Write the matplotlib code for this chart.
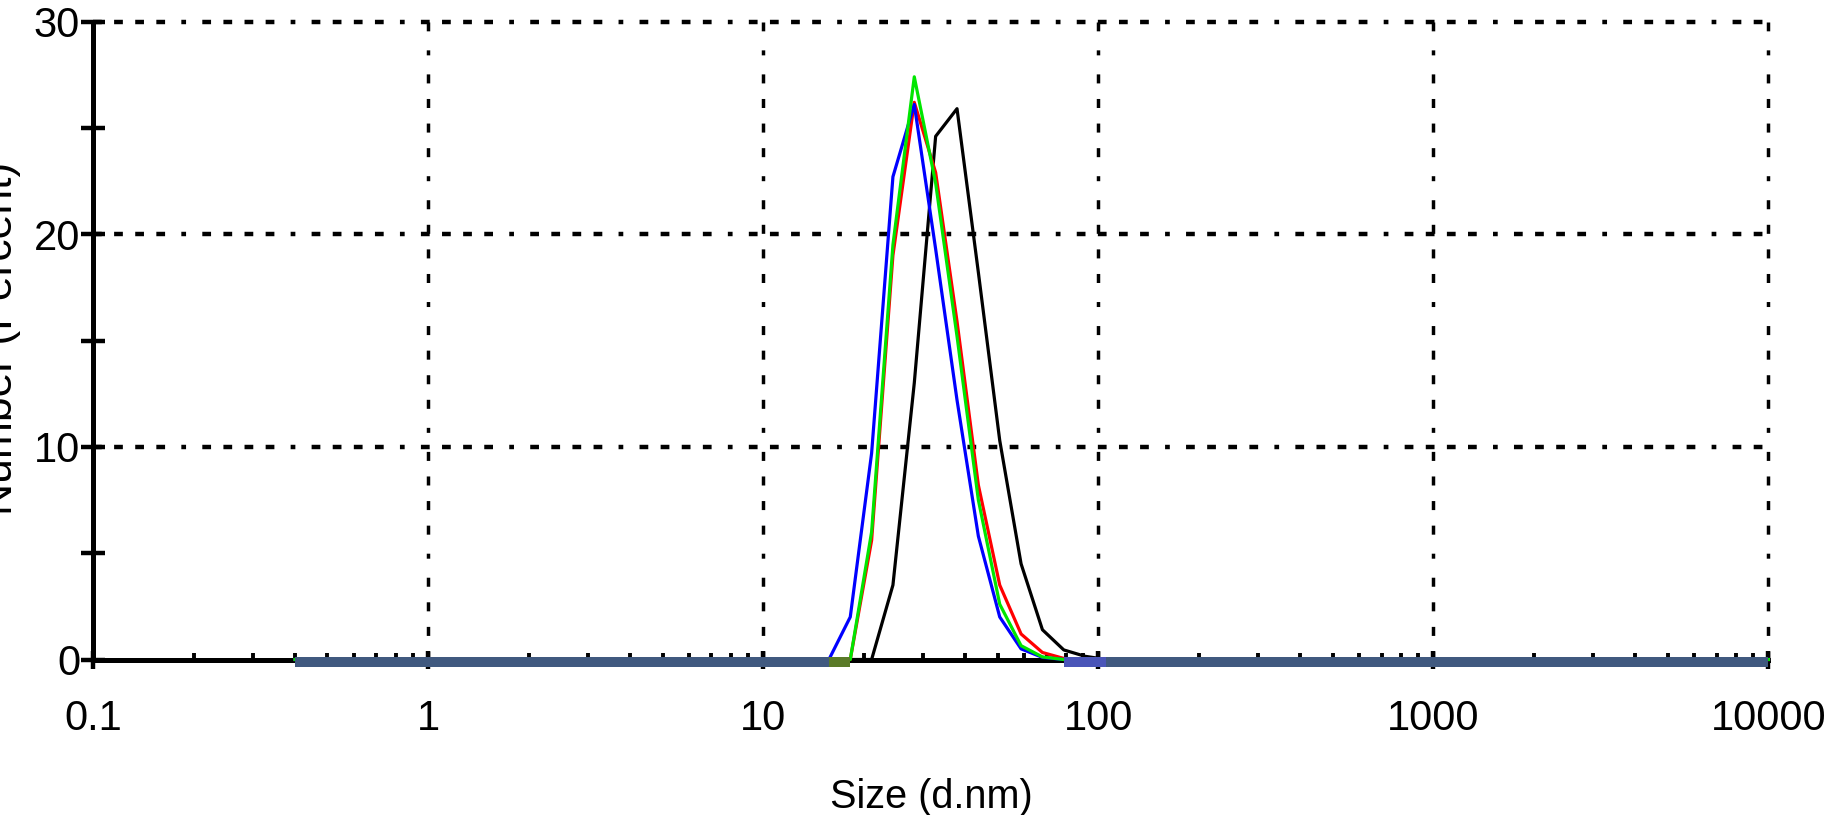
import matplotlib
matplotlib.use("Agg")
import matplotlib.pyplot as plt
import matplotlib.transforms as mtransforms
from matplotlib.ticker import FixedLocator, NullFormatter

plt.rcParams['font.family'] = ['Liberation Sans', 'DejaVu Sans']
plt.rcParams['lines.scale_dashes'] = False

# ---------------- data ----------------
sizes = [0.4, 13.54, 15.69, 18.17, 21.04, 24.36, 28.21, 32.67, 37.84, 43.82,
         50.75, 58.77, 68.06, 78.82, 91.28, 105.7, 10000]
record_red = [0, 0, 0, 0, 5.6, 19.0, 26.2, 22.9, 15.9, 8.2, 3.5, 1.2, 0.33, 0.05, 0, 0, 0]
record_blue = [0, 0, 0, 2.0, 9.7, 22.7, 26.1, 19.3, 12.2, 5.8, 2.0, 0.5, 0.1, 0, 0, 0, 0]
record_green = [0, 0, 0, 0, 6.0, 19.5, 27.4, 22.4, 15.2, 7.5, 2.6, 0.65, 0.12, 0, 0, 0, 0]
record_black = [0, 0, 0, 0, 0, 3.5, 13.0, 24.6, 25.9, 18.2, 10.3, 4.5, 1.4, 0.45, 0.15, 0, 0]

x_major = [0.1, 1, 10, 100, 1000, 10000]
x_labels = ['0.1', '1', '10', '100', '1000', '10000']
x_minor = [m * d for d in [0.1, 1, 10, 100, 1000] for m in range(2, 10)]
y_major = [0, 10, 20, 30]
y_minor = [5, 15, 25]
y_labels = ['0', '10', '20', '30']

# curves drawn in this order
curve_series = [
    (record_black, '#000000'),
    (record_red, '#ff0000'),
    (record_blue, '#0000ff'),
    (record_green, '#00e600'),
]
# zero-baseline band colours, drawn in this order
band_series = [
    (record_red, '#7a6a5a'),
    (record_green, '#5a7a28'),
    (record_blue, '#4a55b8'),
]

# ---------------- figure ----------------
W, H = 1828, 815
fig = plt.figure(figsize=(W / 100, H / 100), dpi=100)
ax = fig.add_axes([93.3 / W, (H - 659.5) / H, (1768.5 - 93.3) / W, (659.5 - 21.5) / H])
ax.set_xscale('log')
ax.set_xlim(0.1, 10000)
ax.set_ylim(0, 30)

# grid (dash - dash - dash - dash - dot pattern)
hpat = (0, (6.3, 8.9, 6.3, 8.9, 6.3, 8.9, 6.3, 11.7, 3.4, 11.7))
vpat = (0, (6.5, 11.2, 6.5, 11.2, 6.5, 11.2, 6.5, 13.7, 3.6, 13.7))
for yv in y_major[1:]:
    ax.axhline(yv, color='black', lw=3.2, linestyle=hpat, dash_capstyle='butt',
               zorder=1, clip_on=False)
for xv in x_major[1:]:
    ax.axvline(xv, color='black', lw=2.5, linestyle=vpat, dash_capstyle='butt',
               zorder=1, clip_on=False)

# spines
for s in ['top', 'right']:
    ax.spines[s].set_visible(False)
for s in ['left', 'bottom']:
    ax.spines[s].set_linewidth(3.6)
    ax.spines[s].set_zorder(2)

band_tr = mtransforms.offset_copy(ax.transData, fig=fig, x=0, y=-2, units='dots')

def zero_runs(vals):
    runs = []
    start = None
    for i, v in enumerate(vals):
        if v == 0:
            if start is None:
                start = i
        else:
            if start is not None and i - start >= 2:
                runs.append((start, i - 1))
            start = None
    if start is not None and len(vals) - start >= 2:
        runs.append((start, len(vals) - 1))
    return runs

# curves
for vals, col in curve_series:
    ax.plot(sizes, vals, color=col, lw=2.3, clip_on=False, zorder=2.6,
            solid_joinstyle='round')

# per-record zero bands
for vals, bcol in band_series:
    for a, b in zero_runs(vals):
        ax.plot([sizes[a], sizes[b]], [0, 0], color=bcol, lw=7.2,
                solid_capstyle='butt', transform=band_tr, clip_on=False, zorder=3)

# common zero band (all records at zero)
all_zero = [0 if all(s[0][i] == 0 for s in curve_series) else 1 for i in range(len(sizes))]
for a, b in zero_runs(all_zero):
    ax.plot([sizes[a], sizes[b]], [0, 0], color='#40597f', lw=7.2,
            solid_capstyle='butt', transform=band_tr, clip_on=False, zorder=3.5)

# ticks
ax.xaxis.set_major_locator(FixedLocator(x_major))
ax.xaxis.set_minor_locator(FixedLocator(x_minor))
ax.set_xticklabels(x_labels)
ax.xaxis.set_minor_formatter(NullFormatter())
ax.yaxis.set_major_locator(FixedLocator(y_major))
ax.yaxis.set_minor_locator(FixedLocator(y_minor))
ax.set_yticklabels(y_labels)

ax.tick_params(axis='x', which='major', direction='inout', length=13, width=3.2,
               pad=22, labelsize=30)
ax.tick_params(axis='x', which='minor', direction='in', length=5, width=2.8)
ax.tick_params(axis='y', which='both', direction='inout', length=17, width=3.2)
ax.tick_params(axis='y', which='major', pad=1, labelsize=30)

fig.text(931 / W, 1 - 808 / H, 'Size (d.nm)', ha='center', va='baseline', fontsize=28.5)
fig.text(21 / W, 1 - 338 / H, 'Number (Percent)', rotation=90, ha='right', va='center',
         fontsize=32)

fig.savefig('out.png', dpi=100)
